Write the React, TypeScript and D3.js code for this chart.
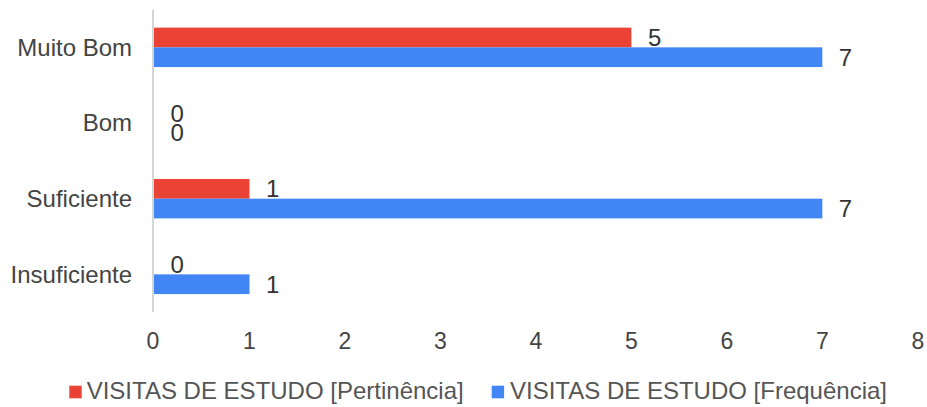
import React from "react";
import * as d3 from "d3";

const categories = ["Muito Bom", "Bom", "Suficiente", "Insuficiente"];
const seriesNames = ["VISITAS DE ESTUDO [Pertinência]", "VISITAS DE ESTUDO [Frequência]"];
const pertinencia = [5, 0, 1, 0];
const frequencia = [7, 0, 7, 1];
const xTicks = [0, 1, 2, 3, 4, 5, 6, 7, 8];
const colors = ["#EA4335", "#4285F4"];

const W = 927;
const H = 407;
const FONT = "'Liberation Sans', Arial, sans-serif";

export default function App() {
  const x = d3.scaleLinear().domain([0, 8]).range([154, 917.8]);
  const p = 0.479;
  const y = d3.scaleBand<string>().domain(categories).range([9.5, 312.2]).paddingInner(p).paddingOuter(p / 2);
  const sub = d3.scaleBand<number>().domain([0, 1]).range([0, y.bandwidth()]);
  const series = [pertinencia, frequencia];

  return (
    <svg width={W} height={H} style={{ position: "absolute", left: 0, top: 0, background: "#fff" }} fontFamily={FONT}>
      <rect x={0} y={0} width={W} height={H} fill="#fff" />
      {categories.map((c, i) => (
        <g key={c}>
          <text x={132} y={(y(c) as number) + y.bandwidth() / 2} dy="0.35em" textAnchor="end" fontSize={24} fill="#444">
            {c}
          </text>
          {series.map((s, si) => {
            const by = (y(c) as number) + (sub(si) as number);
            const v = s[i];
            return (
              <g key={si}>
                {v > 0 && (
                  <rect x={x(0)} y={by} width={x(v) - x(0)} height={sub.bandwidth()} fill={colors[si]} />
                )}
                <text x={x(v) + 16.5} y={by + sub.bandwidth() / 2} dy="0.35em" fontSize={24} fill="#333">
                  {v}
                </text>
              </g>
            );
          })}
        </g>
      ))}
      <line x1={153} x2={153} y1={9.5} y2={312.2} stroke="#d5d5d5" strokeWidth={2} />
      {xTicks.map((t) => (
        <text key={t} x={t === 0 ? 153 : x(t)} y={349.3} textAnchor="middle" fontSize={23} fill="#444">
          {t}
        </text>
      ))}
      <g>
        <rect x={69.3} y={385.7} width={12.4} height={12.6} fill={colors[0]} />
        <text x={86.7} y={399} fontSize={24} fill="#555">{seriesNames[0]}</text>
        <rect x={491.7} y={385.7} width={12.4} height={12.6} fill={colors[1]} />
        <text x={510} y={399} fontSize={24} fill="#555">{seriesNames[1]}</text>
      </g>
    </svg>
  );
}
